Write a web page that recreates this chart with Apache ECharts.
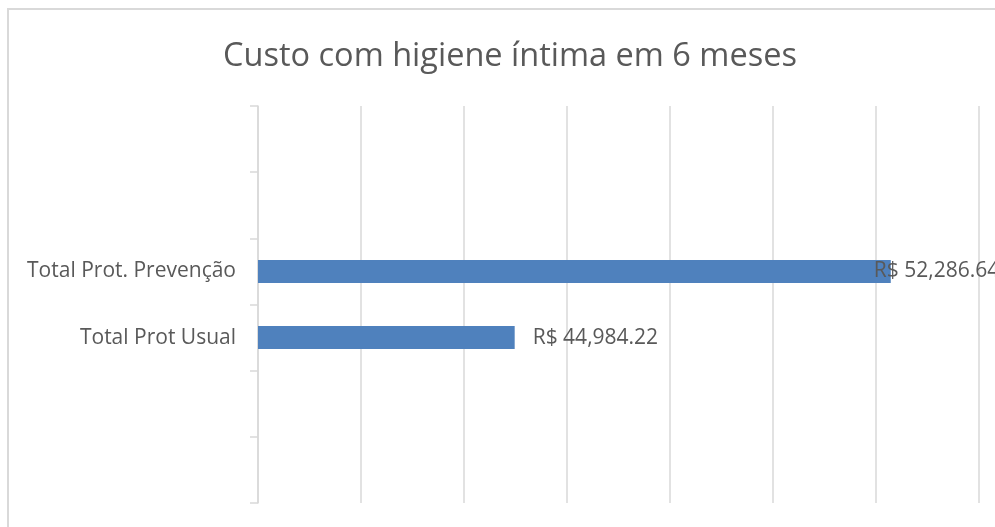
<!DOCTYPE html>
<html>
<head>
<meta charset="utf-8">
<script src="https://cdn.jsdelivr.net/npm/echarts@6/dist/echarts.min.js"></script>
<style>
  html, body { margin: 0; padding: 0; background: #fff; overflow: hidden; }
  #chart { width: 995px; height: 527px; position: relative; }
  .frame {
    position: absolute; left: 7px; top: 8px; right: -20px; bottom: -20px;
    border-left: 2px solid #d9d9d9; border-top: 2px solid #d9d9d9;
    pointer-events: none;
  }
</style>
</head>
<body>
<div style="position:relative;width:995px;height:527px;overflow:hidden">
  <div id="chart"></div>
  <div class="frame"></div>
</div>
<script>
// categorias (de baixo para cima), as vazias são linhas em branco da planilha
const categories = ['', ' ', 'Total Prot Usual', 'Total Prot. Prevenção', '  ', '   '];
const custo = [null, null, 44984.22, 52286.64, null, null];

const axisMin = 40000;
const axisMax = 54000;
const axisStep = 2000;

const textColor = '#595959';
const gridColor = '#d9d9d9';
const fontFamily = '"Open Sans", sans-serif';

const fmt = v => 'R$ ' + v.toLocaleString('en-US', {minimumFractionDigits: 2, maximumFractionDigits: 2});

const chart = echarts.init(document.getElementById('chart'));

const seriesData = custo.map((v, i) => {
  if (v === null) return null;
  // o rótulo da maior barra foi empurrado para dentro, como no Excel
  if (i === 3) return {value: v, label: {offset: [-35, 0]}};
  return v;
});

chart.setOption({
  animation: false,
  backgroundColor: '#fff',
  title: {
    text: 'Custo com higiene íntima em 6 meses',
    left: 505,
    top: 35,
    textAlign: 'center',
    textStyle: {color: textColor, fontSize: 32.5, fontWeight: 'normal', fontFamily: fontFamily}
  },
  grid: {left: 258, right: 16, top: 106, bottom: 24, containLabel: false},
  xAxis: {
    type: 'value',
    min: axisMin,
    max: axisMax,
    interval: axisStep,
    axisLabel: {show: false},
    axisLine: {show: false},
    axisTick: {show: false},
    splitLine: {show: true, lineStyle: {color: gridColor, width: 1.5}}
  },
  yAxis: {
    type: 'category',
    data: categories,
    axisLine: {show: true, lineStyle: {color: gridColor, width: 1.5}},
    axisTick: {show: true, length: 8, lineStyle: {color: gridColor, width: 1.5}},
    axisLabel: {color: textColor, fontSize: 21, fontFamily: fontFamily, margin: 22}
  },
  series: [{
    type: 'bar',
    data: seriesData,
    barWidth: 23,
    itemStyle: {color: '#4f81bd'},
    label: {
      show: true,
      position: 'right',
      distance: 18,
      color: textColor,
      fontSize: 21,
      fontFamily: fontFamily,
      formatter: p => fmt(p.value)
    }
  }]
});
</script>
</body>
</html>
